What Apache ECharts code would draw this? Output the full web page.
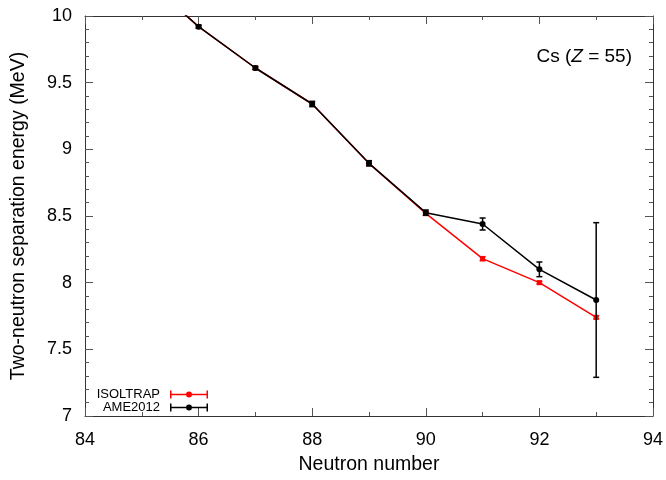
<!DOCTYPE html>
<html><head><meta charset="utf-8">
<script src="https://cdn.jsdelivr.net/npm/echarts@6/dist/echarts.min.js"></script>
<style>html,body{margin:0;padding:0;background:#fff}#c{width:666px;height:480px}</style>
</head><body><div id="c"></div>
<script>
const neutrons = [85, 86, 87, 88, 89, 90, 91, 92, 93];
const isoltrap = [10.30, 9.92, 9.61, 9.34, 8.895, 8.52, 8.18, 8.00, 7.74];
const isoltrapErr = [0.02, 0.01, 0.01, 0.015, 0.015, 0.015, 0.015, 0.01, 0.012];
const ame2012 = [10.30, 9.92, 9.61, 9.34, 8.895, 8.525, 8.44, 8.10, 7.87];
const ame2012Err = [0.02, 0.012, 0.012, 0.02, 0.02, 0.02, 0.045, 0.055, 0.58];
const xTicks = [84, 86, 88, 90, 92, 94];
const yTicks = [7, 7.5, 8, 8.5, 9, 9.5, 10];

const FONT = "'Liberation Sans', Arial, sans-serif";
const chart = echarts.init(document.getElementById('c'));

function errSeries(name, vals, errs, color) {
  return {
    type: 'custom', name: name, xAxisIndex: 0, yAxisIndex: 0, z: 3,
    clip: true,
    data: neutrons.map((n, i) => [n, vals[i] - errs[i], vals[i] + errs[i]]),
    renderItem: function (params, api) {
      const x = api.value(0);
      const lo = api.coord([x, api.value(1)]);
      const hi = api.coord([x, api.value(2)]);
      const hw = 3;
      const st = { stroke: color, lineWidth: 1.5 };
      return { type: 'group', children: [
        { type: 'line', shape: { x1: lo[0], y1: lo[1], x2: hi[0], y2: hi[1] }, style: st },
        { type: 'line', shape: { x1: lo[0] - hw, y1: lo[1], x2: lo[0] + hw, y2: lo[1] }, style: st },
        { type: 'line', shape: { x1: hi[0] - hw, y1: hi[1], x2: hi[0] + hw, y2: hi[1] }, style: st }
      ]};
    },
    tooltip: { show: false }
  };
}

const axisCommon = {
  type: 'value',
  axisLine: { show: true, lineStyle: { color: '#333', width: 1 } },
  axisTick: { show: true, inside: true, length: 8, lineStyle: { color: '#555' } },
  minorTick: { show: true, length: 4, lineStyle: { color: '#555' } },
  splitLine: { show: false },
  minorSplitLine: { show: false }
};

const legendIcon = 'path://M0,3.25h16v1.5h-16z M22,3.25h16v1.5h-16z M0,0h1.5v8h-1.5z M36.5,0h1.5v8h-1.5z M19,1a3,3 0 1,1 0,6a3,3 0 1,1 0,-6z';

chart.setOption({
  animation: false,
  grid: { left: 85, right: 12, top: 16, bottom: 62 },
  xAxis: [
    Object.assign({}, axisCommon, {
      position: 'bottom', min: xTicks[0], max: xTicks[xTicks.length - 1], interval: 2,
      minorTick: Object.assign({}, axisCommon.minorTick, { splitNumber: 2 }),
      axisLabel: { color: '#000', fontSize: 18, fontFamily: FONT, margin: 15 },
      name: 'Neutron number', nameLocation: 'middle', nameGap: 39,
      nameTextStyle: { color: '#000', fontSize: 19.5, fontFamily: FONT }
    }),
    Object.assign({}, axisCommon, {
      position: 'top', min: xTicks[0], max: xTicks[xTicks.length - 1], interval: 2,
      minorTick: Object.assign({}, axisCommon.minorTick, { splitNumber: 2 }),
      axisLabel: { show: false }
    })
  ],
  yAxis: [
    Object.assign({}, axisCommon, {
      position: 'left', min: yTicks[0], max: yTicks[yTicks.length - 1], interval: 0.5,
      minorTick: Object.assign({}, axisCommon.minorTick, { splitNumber: 5 }),
      axisLabel: { color: '#000', fontSize: 18, fontFamily: FONT, margin: 13 },
      name: 'Two-neutron separation energy (MeV)', nameLocation: 'middle', nameGap: 56,
      nameTextStyle: { color: '#000', fontSize: 19.5, fontFamily: FONT }
    }),
    Object.assign({}, axisCommon, {
      position: 'right', min: yTicks[0], max: yTicks[yTicks.length - 1], interval: 0.5,
      minorTick: Object.assign({}, axisCommon.minorTick, { splitNumber: 5 }),
      axisLabel: { show: false }
    })
  ],
  legend: {
    orient: 'vertical', left: 90, top: 383, itemGap: 0,
    align: 'right', itemWidth: 38, itemHeight: 8,
    textStyle: { color: '#000', fontSize: 13, lineHeight: 13, fontFamily: FONT, width: 65, align: 'right', padding: [0, 5, 0, 0] },
    data: [
      { name: 'ISOLTRAP', icon: legendIcon, itemStyle: { color: '#ff0000' } },
      { name: 'AME2012', icon: legendIcon, itemStyle: { color: '#000000' } }
    ]
  },
  graphic: [{
    type: 'text', right: 34, top: 47,
    style: {
      text: '{a|Cs (}{i|Z}{a| = 55)}',
      rich: {
        a: { fontSize: 19, fontFamily: FONT, fill: '#000' },
        i: { fontSize: 19, fontFamily: FONT, fontStyle: 'italic', fill: '#000' }
      }
    }
  }],
  series: [
    {
      name: 'ISOLTRAP', type: 'line', z: 4,
      data: neutrons.map((n, i) => [n, isoltrap[i]]),
      lineStyle: { color: '#ff0000', width: 1.5 },
      itemStyle: { color: '#ff0000' },
      symbol: 'rect', symbolSize: 5, showAllSymbol: true
    },
    errSeries('ISOLTRAP', isoltrap, isoltrapErr, '#ff0000'),
    {
      name: 'AME2012', type: 'line', z: 6,
      data: neutrons.map((n, i) => [n, ame2012[i]]),
      lineStyle: { color: '#000000', width: 1.5 },
      itemStyle: { color: '#000000' },
      symbol: 'circle', symbolSize: 6, showAllSymbol: true
    },
    Object.assign(errSeries('AME2012', ame2012, ame2012Err, '#000000'), { z: 5 })
  ]
});
</script></body></html>
